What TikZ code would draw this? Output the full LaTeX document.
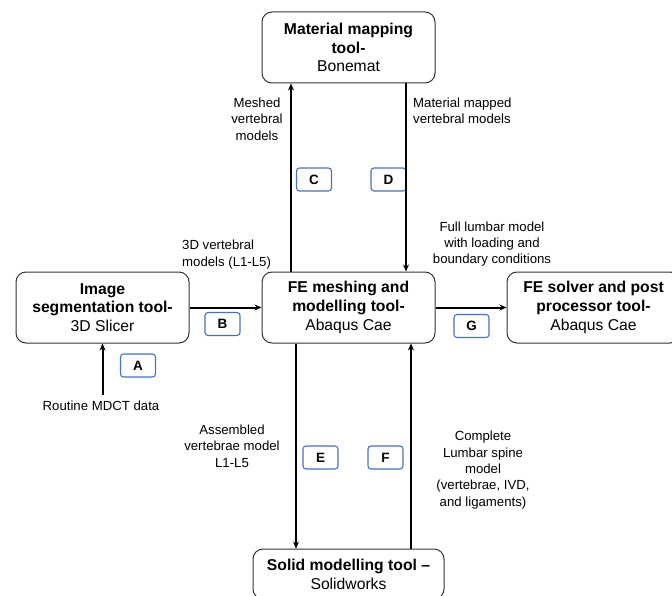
\documentclass[tikz,border=0pt]{standalone}
\usepackage{fontspec}
\setmainfont{Liberation Sans}
\usepackage{tikz}
\usetikzlibrary{arrows.meta}
\definecolor{letterblue}{RGB}{68,114,196}

\begin{document}
\begin{tikzpicture}[x=1pt, y=-1pt,
        toolbox/.style={rectangle, draw=black!80, rounded corners=10pt, line width=1pt,
            minimum width=173pt, minimum height=71pt, align=center,
            font=\fontsize{15.7}{18.8}\selectfont},
        letterbox/.style={rectangle, draw=letterblue, rounded corners=3pt, line width=1.1pt,
            minimum width=35pt, minimum height=23pt, inner sep=0pt,
            font=\fontsize{13.5}{15}\selectfont\bfseries},
        flowlabel/.style={inner sep=0pt, font=\fontsize{13.2}{16.3}\selectfont},
        flow/.style={line width=2pt, -{Stealth[length=7pt, width=6pt]}}]
        \useasboundingbox (0,0) rectangle (672,596);

        % Tools
        \node[toolbox] (map) at (348.5, 47.5) {\textbf{Material mapping}\\\textbf{tool-}\\Bonemat};
        \node[toolbox] (seg) at (102.5, 307.5) {\textbf{Image}\\\textbf{segmentation tool-}\\3D Slicer};
        \node[toolbox] (mesh) at (348.5, 307.5) {\textbf{FE meshing and}\\\textbf{modelling tool-}\\Abaqus Cae};
        \node[toolbox] (solver) at (593.5, 307.5) {\textbf{FE solver and post}\\\textbf{processor tool-}\\Abaqus Cae};
        \node[toolbox, minimum width=191pt, minimum height=50pt] (solid) at (348.5, 574) {\textbf{Solid modelling tool --}\\Solidworks};

        % Labels
        \node[flowlabel] (mdct) at (101, 406) {Routine MDCT data};
        \node[flowlabel, align=left, anchor=west] (lab3d) at (182, 254.5) {3D vertebral\\models (L1-L5)};
        \node[flowlabel, align=center] (labmeshed) at (257, 119) {Meshed\\vertebral\\models};
        \node[flowlabel, align=left, anchor=west] (labmapped) at (413, 111) {Material mapped\\vertebral models};
        \node[flowlabel, align=center] (labfull) at (492, 244) {Full lumbar model\\with loading and\\boundary conditions};
        \node[flowlabel, align=center] (labassembled) at (232, 446) {Assembled\\vertebrae model\\L1-L5};
        \node[flowlabel, align=center] (labcomplete) at (483, 470) {Complete\\Lumbar spine\\model\\(vertebrae, IVD,\\and ligaments)};

        % Steps
        \node[letterbox] (A) at (138, 365.5) {A};
        \node[letterbox] (B) at (222.5, 324) {B};
        \node[letterbox] (C) at (314, 179.5) {C};
        \node[letterbox] (D) at (388.5, 179.5) {D};
        \node[letterbox] (E) at (320.5, 457.5) {E};
        \node[letterbox] (F) at (385.5, 457.5) {F};
        \node[letterbox] (G) at (471.5, 326) {G};

        % Arrows
        \draw[flow] ([yshift=6pt]mdct.north -| seg.south) -- (seg.south);
        \draw[flow] (seg.east) -- (mesh.west);
        \draw[flow] ([xshift=-57.5pt]mesh.north) -- ([xshift=-57.5pt]map.south);
        \draw[flow] ([xshift=57.5pt]map.south) -- ([xshift=57.5pt]mesh.north);
        \draw[flow] (mesh.east) -- (solver.west);
        \draw[flow] ([xshift=-52.5pt]mesh.south) -- ([xshift=-52.5pt]solid.north);
        \draw[flow] ([xshift=62.5pt]solid.north) -- ([xshift=62.5pt]mesh.south);

    \end{tikzpicture}
\end{document}
